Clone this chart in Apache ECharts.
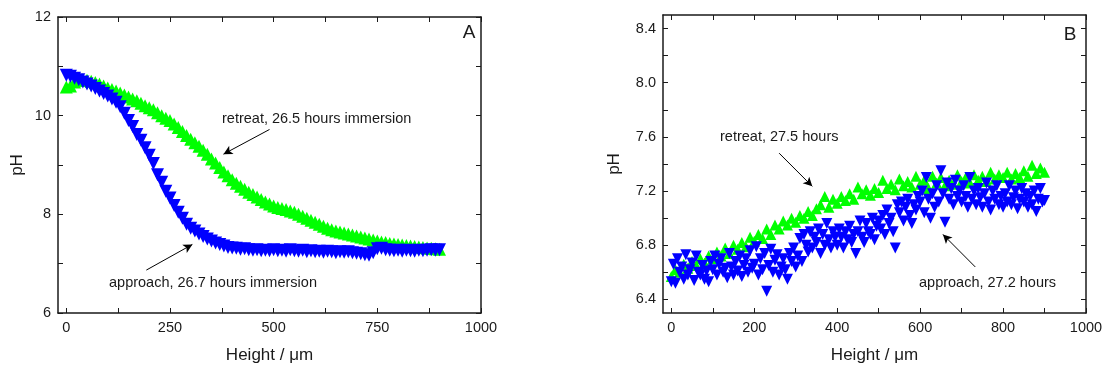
<!DOCTYPE html>
<html>
<head>
<meta charset="utf-8">
<script src="https://cdn.jsdelivr.net/npm/echarts@6/dist/echarts.min.js"></script>
<style>
  html, body { margin: 0; padding: 0; background: #fff; }
  #chart { width: 1106px; height: 369px; }
</style>
</head>
<body>
<div id="chart"></div>
<script>
// panel A: heights every 10 um
const heightsA = [];
for (let h = 0; h <= 900; h += 10) heightsA.push(h);
const retreatA = [
  10.58, 10.60, 10.68, 10.72, 10.73, 10.72, 10.70, 10.67, 10.64, 10.60,
  10.56, 10.53, 10.50, 10.46, 10.42, 10.38, 10.34, 10.30, 10.25, 10.20,
  10.16, 10.12, 10.06, 10.00, 9.95, 9.90, 9.83, 9.76, 9.68, 9.60,
  9.52, 9.45, 9.38, 9.30, 9.22, 9.12, 9.04, 8.95, 8.86, 8.78,
  8.70, 8.63, 8.57, 8.51, 8.45, 8.40, 8.35, 8.30, 8.25, 8.21,
  8.17, 8.14, 8.12, 8.10, 8.07, 8.04, 8.00, 7.96, 7.92, 7.88,
  7.84, 7.80, 7.76, 7.72, 7.69, 7.66, 7.64, 7.62, 7.60, 7.58,
  7.56, 7.54, 7.52, 7.50, 7.48, 7.46, 7.44, 7.43, 7.41, 7.40,
  7.39, 7.38, 7.37, 7.36, 7.35, 7.34, 7.33, 7.32, 7.31, 7.30, 7.29
];
const approachA = [
  10.82, 10.80, 10.76, 10.73, 10.68, 10.64, 10.60, 10.55, 10.50, 10.45,
  10.40, 10.34, 10.27, 10.18, 10.05, 9.90, 9.78, 9.62, 9.50, 9.35,
  9.20, 9.03, 8.80, 8.65, 8.47, 8.33, 8.18, 8.04, 7.92, 7.80,
  7.72, 7.66, 7.60, 7.55, 7.50, 7.46, 7.42, 7.39, 7.36, 7.33,
  7.32, 7.31, 7.29, 7.30, 7.28, 7.27, 7.28, 7.26, 7.27, 7.26,
  7.28, 7.26, 7.27, 7.25, 7.28, 7.26, 7.25, 7.27, 7.24, 7.26,
  7.24, 7.25, 7.23, 7.25, 7.24, 7.22, 7.24, 7.23, 7.24, 7.22,
  7.21, 7.20, 7.18, 7.17, 7.22, 7.30, 7.31, 7.28, 7.27, 7.26,
  7.27, 7.25, 7.27, 7.26, 7.25, 7.27, 7.26, 7.27, 7.28, 7.27, 7.28
];

// panel B: retreat every 10 um, approach every 5 um
const heightsB10 = [];
for (let h = 0; h <= 900; h += 10) heightsB10.push(h);
const heightsB5 = [];
for (let h = 0; h <= 900; h += 5) heightsB5.push(h);
const retreatB = [
  6.57, 6.62, 6.60, 6.66, 6.63, 6.68, 6.65, 6.70, 6.67, 6.72,
  6.70, 6.75, 6.72, 6.78, 6.74, 6.80, 6.77, 6.82, 6.79, 6.86,
  6.83, 6.88, 6.85, 6.92, 6.88, 6.95, 6.92, 6.98, 6.95, 7.00,
  6.97, 7.02, 7.00, 7.05, 7.02, 7.07, 7.10, 7.16, 7.08, 7.14,
  7.11, 7.16, 7.13, 7.18, 7.14, 7.23, 7.18, 7.21, 7.17, 7.22,
  7.19, 7.28, 7.22, 7.25, 7.21, 7.29, 7.24, 7.27, 7.23, 7.31,
  7.25, 7.28, 7.22, 7.31, 7.26, 7.30, 7.24, 7.28, 7.25, 7.32,
  7.27, 7.30, 7.26, 7.32, 7.28, 7.31, 7.27, 7.34, 7.29, 7.32,
  7.30, 7.34, 7.29, 7.33, 7.30, 7.35, 7.31, 7.39, 7.33, 7.37, 7.34
];
const approachB = [
  6.53, 6.66, 6.52, 6.70, 6.60, 6.64, 6.55, 6.73, 6.58, 6.62,
  6.67, 6.54, 6.72, 6.60, 6.58, 6.65, 6.55, 6.61, 6.53, 6.68,
  6.62, 6.72, 6.58, 6.66, 6.70, 6.60, 6.63, 6.56, 6.74, 6.64,
  6.58, 6.68, 6.61, 6.72, 6.57, 6.65, 6.70, 6.60, 6.76, 6.63,
  6.66, 6.79, 6.58, 6.70, 6.62, 6.74, 6.46, 6.65, 6.77, 6.60,
  6.69, 6.73, 6.58, 6.64, 6.70, 6.62, 6.55, 6.74, 6.68, 6.78,
  6.64, 6.72, 6.85, 6.68, 6.88, 6.80, 6.75, 6.90, 6.78, 6.86,
  6.82, 6.92, 6.74, 6.88, 6.80, 6.96, 6.84, 6.78, 6.90, 6.86,
  6.80, 6.92, 6.86, 6.78, 6.90, 6.84, 6.94, 6.82, 6.88, 6.74,
  6.90, 6.98, 6.86, 6.82, 6.96, 6.90, 6.88, 7.00, 6.84, 6.94,
  6.98, 6.92, 7.02, 6.88, 7.06, 6.96, 7.00, 6.90, 6.78, 7.10,
  7.04, 7.12, 6.98, 7.08, 7.14, 7.02, 6.96, 7.10, 7.06, 7.16,
  7.12, 7.20, 7.04, 7.30, 7.14, 7.00, 7.18, 7.08, 7.24, 7.12,
  7.35, 7.18, 6.97, 7.26, 7.14, 7.22, 7.10, 7.28, 7.16, 7.20,
  7.12, 7.24, 7.16, 7.08, 7.30, 7.14, 7.20, 7.10, 7.22, 7.15,
  7.08, 7.18, 7.26, 7.12, 7.06, 7.20, 7.14, 7.24, 7.10, 7.16,
  7.08, 7.18, 7.12, 7.24, 7.10, 7.15, 7.20, 7.07, 7.14, 7.22,
  7.12, 7.18, 7.08, 7.16, 7.10, 7.20, 7.05, 7.14, 7.22, 7.12,
  7.13
];

// ticks and labels
const xLabelsA = [0, 250, 500, 750, 1000];
const xTicksA = [0, 125, 250, 375, 500, 625, 750, 875, 1000];
const yLabelsA = [6, 8, 10, 12];
const yTicksA = [6, 7, 8, 9, 10, 11, 12];
const xLabelsB = [0, 200, 400, 600, 800, 1000];
const xTicksB = [0, 100, 200, 300, 400, 500, 600, 700, 800, 900, 1000];
const yLabelsB = [6.4, 6.8, 7.2, 7.6, 8.0, 8.4];
const yTicksB = [6.4, 6.6, 6.8, 7.0, 7.2, 7.4, 7.6, 7.8, 8.0, 8.2, 8.4];

const green = '#00ff00';
const blue = '#0000ff';
const font = 'Liberation Sans, Arial, sans-serif';
const ink = '#1a1a1a';

function zip(xs, ys) {
  return xs.map((x, i) => [x, ys[i]]);
}

function axisBase(show, labels, ticks, fmt) {
  return {
    axisLine: { show: true, onZero: false, lineStyle: { color: ink, width: 1.5 } },
    axisTick: { show: true, inside: true, length: 5, customValues: ticks, lineStyle: { color: ink, width: 1 } },
    axisLabel: {
      show: show,
      customValues: labels,
      color: ink,
      fontSize: 14.5,
      fontFamily: font,
      margin: 7,
      formatter: fmt
    },
    splitLine: { show: false }
  };
}

function arrow(x1, y1, x2, y2) {
  return [{ coord: [x1, y1] }, { coord: [x2, y2] }];
}

const nameStyle = { fontSize: 17, fontFamily: font, color: ink };

const chart = echarts.init(document.getElementById('chart'));
const option = {
  animation: false,
  backgroundColor: '#fff',
  grid: [
    { left: 58, top: 17, width: 423, height: 298 },
    { left: 663, top: 15, width: 423, height: 299 }
  ],
  xAxis: [
    Object.assign(axisBase(true, xLabelsA, xTicksA, v => String(v)), {
      type: 'value', gridIndex: 0, min: -20, max: 1000, position: 'bottom',
      name: 'Height / μm', nameLocation: 'middle', nameGap: 34, nameTextStyle: nameStyle
    }),
    Object.assign(axisBase(false, xLabelsA, xTicksA), {
      type: 'value', gridIndex: 0, min: -20, max: 1000, position: 'top'
    }),
    Object.assign(axisBase(true, xLabelsB, xTicksB, v => String(v)), {
      type: 'value', gridIndex: 1, min: -20, max: 1000, position: 'bottom',
      name: 'Height / μm', nameLocation: 'middle', nameGap: 34, nameTextStyle: nameStyle
    }),
    Object.assign(axisBase(false, xLabelsB, xTicksB), {
      type: 'value', gridIndex: 1, min: -20, max: 1000, position: 'top'
    })
  ],
  yAxis: [
    Object.assign(axisBase(true, yLabelsA, yTicksA, v => String(v)), {
      type: 'value', gridIndex: 0, min: 6, max: 12, position: 'left',
      name: 'pH', nameLocation: 'middle', nameGap: 32, nameTextStyle: nameStyle
    }),
    Object.assign(axisBase(false, yLabelsA, yTicksA), {
      type: 'value', gridIndex: 0, min: 6, max: 12, position: 'right'
    }),
    Object.assign(axisBase(true, yLabelsB, yTicksB, v => v.toFixed(1)), {
      type: 'value', gridIndex: 1, min: 6.3, max: 8.5, position: 'left',
      name: 'pH', nameLocation: 'middle', nameGap: 40, nameTextStyle: nameStyle
    }),
    Object.assign(axisBase(false, yLabelsB, yTicksB), {
      type: 'value', gridIndex: 1, min: 6.3, max: 8.5, position: 'right'
    })
  ],
  series: [
    {
      name: 'retreat A', type: 'scatter', xAxisIndex: 0, yAxisIndex: 0,
      symbol: 'triangle', symbolSize: 13,
      itemStyle: { color: green, opacity: 1 },
      data: zip(heightsA, retreatA),
      markLine: {
        silent: true, symbol: ['none', 'arrow'], symbolSize: [7, 9],
        lineStyle: { color: '#000', width: 1, type: 'solid' },
        label: { show: false },
        data: [arrow(490, 9.72, 379, 9.22), arrow(193, 6.87, 304, 7.39)]
      }
    },
    {
      name: 'approach A', type: 'scatter', xAxisIndex: 0, yAxisIndex: 0,
      symbol: 'triangle', symbolRotate: 180, symbolSize: 13,
      itemStyle: { color: blue, opacity: 1 },
      data: zip(heightsA, approachA)
    },
    {
      name: 'retreat B', type: 'scatter', xAxisIndex: 2, yAxisIndex: 2,
      symbol: 'triangle', symbolSize: 11,
      itemStyle: { color: green, opacity: 1 },
      data: zip(heightsB10, retreatB),
      markLine: {
        silent: true, symbol: ['none', 'arrow'], symbolSize: [7, 9],
        lineStyle: { color: '#000', width: 1, type: 'solid' },
        label: { show: false },
        data: [arrow(260, 7.48, 340, 7.235), arrow(733, 6.64, 655, 6.88)]
      }
    },
    {
      name: 'approach B', type: 'scatter', xAxisIndex: 2, yAxisIndex: 2,
      symbol: 'triangle', symbolRotate: 180, symbolSize: 11,
      itemStyle: { color: blue, opacity: 1 },
      data: zip(heightsB5, approachB)
    }
  ],
  graphic: [
    { type: 'text', x: 222, y: 119, style: { text: 'retreat, 26.5 hours immersion', font: '14.5px ' + font, fill: ink, verticalAlign: 'middle' } },
    { type: 'text', x: 109, y: 283, style: { text: 'approach, 26.7 hours immersion', font: '14.5px ' + font, fill: ink, verticalAlign: 'middle' } },
    { type: 'text', x: 469, y: 33, style: { text: 'A', font: '19px ' + font, fill: ink, align: 'center', verticalAlign: 'middle' } },
    { type: 'text', x: 720, y: 137, style: { text: 'retreat, 27.5 hours', font: '14.5px ' + font, fill: ink, verticalAlign: 'middle' } },
    { type: 'text', x: 919, y: 283, style: { text: 'approach, 27.2 hours', font: '14.5px ' + font, fill: ink, verticalAlign: 'middle' } },
    { type: 'text', x: 1070, y: 35, style: { text: 'B', font: '19px ' + font, fill: ink, align: 'center', verticalAlign: 'middle' } }
  ]
};
chart.setOption(option);
</script>
</body>
</html>
